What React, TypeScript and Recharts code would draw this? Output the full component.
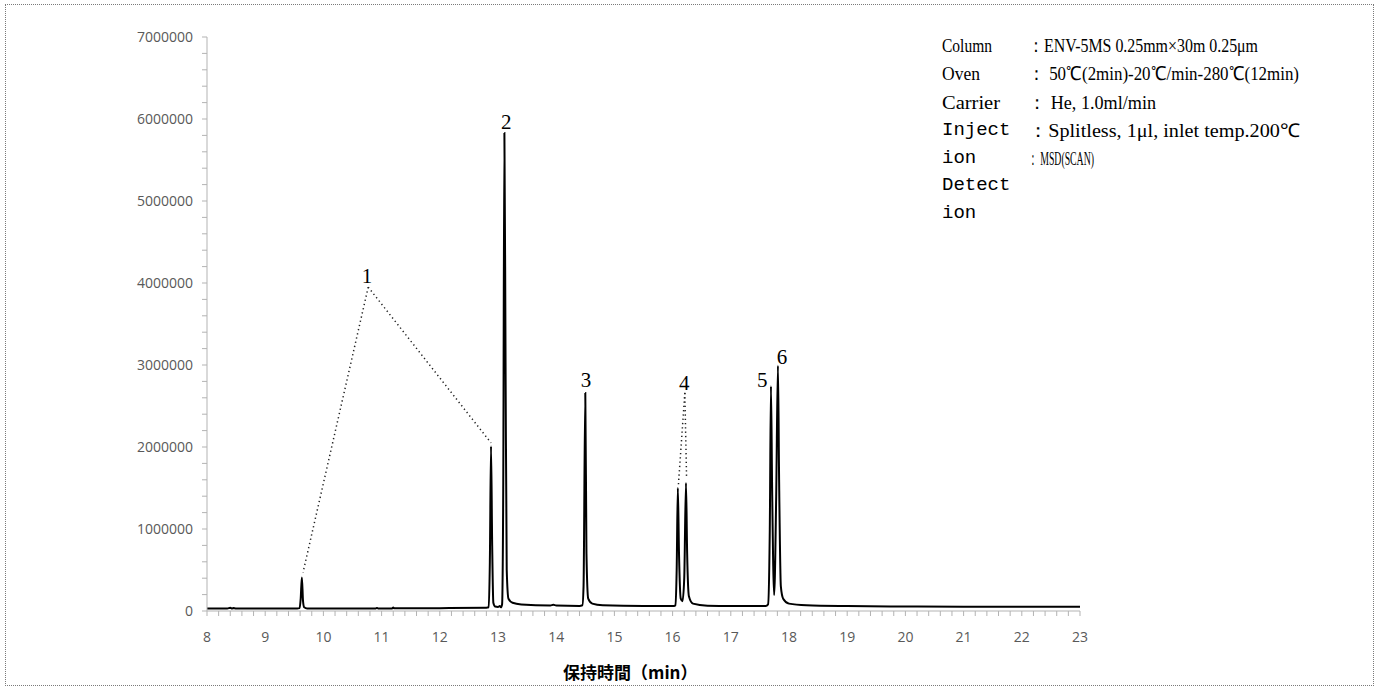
import React from 'react';
import { LineChart, Line, XAxis, YAxis, ReferenceLine, ReferenceDot } from 'recharts';

// Chromatogram trace: retention time (min) and abundance
const retentionTimes = [
  8.0, 8.35, 8.4, 8.43, 8.45, 8.5, 9.0, 9.55,
  9.59, 9.61, 9.63, 9.65, 9.67, 9.72,
  10.0, 10.9, 10.92, 10.94, 11.18, 11.2, 11.22, 12.0, 12.8,
  12.84, 12.86, 12.88, 12.9, 12.92, 12.95, 13.0, 13.03, 13.05,
  13.07, 13.09, 13.11, 13.13, 13.15, 13.18, 13.25, 13.4, 13.9, 13.95, 14.0, 14.4, 14.45,
  14.47, 14.5, 14.52, 14.55, 14.62, 14.8, 15.5, 16.0,
  16.05, 16.07, 16.09, 16.11, 16.14, 16.17, 16.2, 16.23, 16.25, 16.28, 16.35, 16.6, 17.0, 17.6,
  17.64, 17.67, 17.69, 17.71, 17.745, 17.78, 17.81, 17.83, 17.86, 17.9, 18.0, 18.3,
  19.0, 20.0, 21.0, 22.0, 23.0,
];
const intensities = [
  30000, 30000, 40000, 30000, 38000, 30000, 30000, 30000,
  35000, 150000, 410000, 120000, 45000, 32000,
  30000, 32000, 38000, 32000, 32000, 42000, 33000, 35000, 40000,
  45000, 600000, 2010000, 800000, 100000, 55000, 50000, 60000, 45000,
  80000, 1500000, 5830000, 3000000, 500000, 150000, 100000, 80000, 68000, 75000, 68000, 62000, 70000,
  300000, 2660000, 700000, 150000, 90000, 70000, 60000, 60000,
  70000, 500000, 1500000, 700000, 150000, 120000, 400000, 1560000, 700000, 180000, 90000, 65000, 60000, 60000,
  80000, 1000000, 2740000, 1500000, 195000, 1400000, 2990000, 1600000, 300000, 150000, 90000, 70000,
  60000, 55000, 52000, 52000, 52000,
];

const xTickLabels = [8, 9, 10, 11, 12, 13, 14, 15, 16, 17, 18, 19, 20, 21, 22, 23];
const yTickLabels = [0, 1000000, 2000000, 3000000, 4000000, 5000000, 6000000, 7000000];

const peakLabels = ['1', '2', '3', '4', '5', '6'];
const peakLabelTimes = [10.75, 13.14, 14.51, 16.2, 17.54, 17.88];
const peakLabelHeights = [4085000, 5960000, 2820000, 2780000, 2820000, 3100000];

// dotted leader lines: [time, abundance] start and end
const leaderStarts = [[10.77, 3950000], [10.77, 3950000], [16.21, 2660000], [16.21, 2660000]];
const leaderEnds = [[9.65, 470000], [12.88, 2050000], [16.1, 1540000], [16.24, 1630000]];

const conditionNames = ['Column', 'Oven', 'Carrier', 'Inject', 'ion', 'Detect', 'ion'];
const conditionValues = [
  '：ENV-5MS 0.25mm×30m 0.25μm',
  '： 50℃(2min)-20℃/min-280℃(12min)',
  '： He,  1.0ml/min',
  '：Splitless, 1μl, inlet temp.200℃',
  '： MSD(SCAN)',
];
const axisTitle = '保持時間（min）';

const chromData = retentionTimes.map((t, i) => ({ t, v: intensities[i] }));

const xTicks: number[] = [];
xTickLabels.forEach((v, i) => {
  if (i < xTickLabels.length - 1) {
    for (let k = 0; k < 5; k++) xTicks.push(Math.round((v + k * 0.2) * 10) / 10);
  } else xTicks.push(v);
});
const yTicks: number[] = [];
yTickLabels.forEach((v, i) => {
  if (i < yTickLabels.length - 1) {
    for (let k = 0; k < 5; k++) yTicks.push(v + k * 200000);
  } else yTicks.push(v);
});

const tickFont = { fill: '#595959', fontSize: 14, fontFamily: '"Open Sans", "Liberation Sans", sans-serif' };

// layout of the condition block (pixels)
const nameStyles: { mono: boolean; len?: number }[] = [
  { mono: false, len: 50 },
  { mono: false, len: 38 },
  { mono: false, len: 58 },
  { mono: true },
  { mono: true },
  { mono: true },
  { mono: true },
];
const valueLens = [230, 271, 128, 272, 66];
const rowY = [45, 73, 102, 130, 158, 185, 213];

export default function App() {
  return (
    <div style={{ position: 'absolute', left: 0, top: 0, width: 1379, height: 691, background: '#fff' }}>
      <div
        style={{
          position: 'absolute',
          left: 5,
          top: 4,
          width: 1369,
          height: 682,
          border: '1px dotted #7a7a7a',
          boxSizing: 'border-box',
        }}
      />
      <div style={{ position: 'absolute', left: 0, top: 0 }}>
        <LineChart width={1379} height={691} data={chromData} margin={{ top: 37, right: 299, bottom: 50, left: 127 }}>
          <XAxis
            type="number"
            dataKey="t"
            domain={[8, 23]}
            ticks={xTicks}
            interval={0}
            allowDataOverflow
            stroke="#b3b3b3"
            tickLine={{ stroke: '#b3b3b3' }}
            tickSize={5}
            tickMargin={16}
            height={30}
            tick={tickFont}
            tickFormatter={(v: number) => (Number.isInteger(v) ? String(v) : '')}
          />
          <YAxis
            type="number"
            domain={[0, 7000000]}
            ticks={yTicks}
            interval={0}
            allowDataOverflow
            width={80}
            stroke="#b3b3b3"
            tickLine={{ stroke: '#b3b3b3' }}
            tickSize={5}
            tickMargin={9}
            tick={tickFont}
            tickFormatter={(v: number) => (v % 1000000 === 0 ? String(v) : '')}
          />
          <Line
            dataKey="v"
            type="monotone"
            stroke="#000"
            strokeWidth={2}
            dot={false}
            activeDot={false}
            isAnimationActive={false}
          />
          {leaderStarts.map((s, i) => (
            <ReferenceLine
              key={'ld' + i}
              segment={[
                { x: s[0], y: s[1] },
                { x: leaderEnds[i][0], y: leaderEnds[i][1] },
              ]}
              stroke="#222"
              strokeWidth={1.5}
              strokeDasharray="1.3 3"
              ifOverflow="visible"
            />
          ))}
          {peakLabels.map((lab, i) => (
            <ReferenceDot
              key={'pl' + i}
              x={peakLabelTimes[i]}
              y={peakLabelHeights[i]}
              r={0}
              ifOverflow="visible"
              shape={(p: any) => (
                <text
                  x={p.cx}
                  y={p.cy}
                  textAnchor="middle"
                  dominantBaseline="central"
                  fontFamily='"Liberation Serif", "DejaVu Serif", serif'
                  fontSize={21}
                  fill="#000"
                >
                  {lab}
                </text>
              )}
            />
          ))}
        </LineChart>
      </div>
      <svg
        width={1379}
        height={691}
        style={{ position: 'absolute', left: 0, top: 0, pointerEvents: 'none' }}
      >
        {conditionNames.map((n, i) =>
          nameStyles[i].mono ? (
            <text
              key={'n' + i}
              x={942}
              y={rowY[i]}
              dominantBaseline="central"
              fontFamily='"Liberation Mono", "DejaVu Sans Mono", monospace'
              fontSize={19}
              fill="#000"
            >
              {n}
            </text>
          ) : (
            <text
              key={'n' + i}
              x={942}
              y={rowY[i]}
              dominantBaseline="central"
              fontFamily='"Liberation Serif", serif'
              fontSize={19}
              textLength={nameStyles[i].len}
              lengthAdjust="spacingAndGlyphs"
              fill="#000"
            >
              {n}
            </text>
          )
        )}
        {conditionValues.map((v, i) => (
          <text
            key={'v' + i}
            x={1028}
            y={rowY[i]}
            dominantBaseline="central"
            fontFamily='"Liberation Serif", serif'
            fontSize={19}
            textLength={valueLens[i]}
            lengthAdjust="spacingAndGlyphs"
            fill="#000"
          >
            {v}
          </text>
        ))}
        <text
          x={563}
          y={671}
          dominantBaseline="central"
          fontFamily='"Noto Sans CJK JP", sans-serif'
          fontWeight="bold"
          fontSize={17}
          fill="#000"
        >
          {axisTitle}
        </text>
      </svg>
    </div>
  );
}
